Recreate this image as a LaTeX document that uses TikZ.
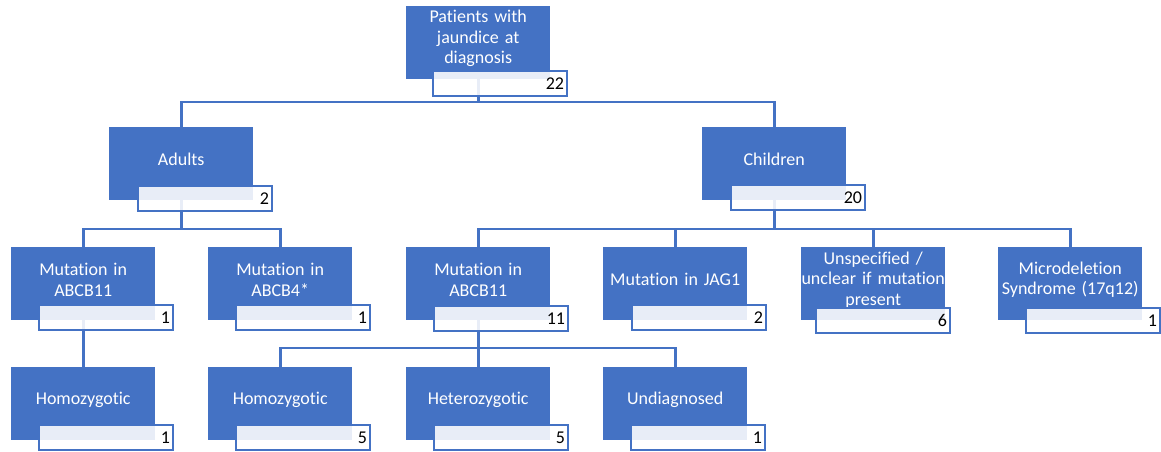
\documentclass[tikz,border=0pt]{standalone}
\usepackage{fontspec}
\setmainfont{Carlito}[Ligatures=NoCommon]
\definecolor{oblue}{HTML}{4472C4}
\begin{document}
\begin{tikzpicture}[x=1pt,y=-1pt,
 rectbox/.style={draw=none, fill=oblue, minimum width=144pt, minimum height=73pt, inner sep=0pt, anchor=north west},
 lbl/.style={text=white, font=\fontsize{18}{20.5}\selectfont, align=center, text width=150pt, inner sep=0pt},
 numbox/.style={draw=oblue, line width=2pt, fill=white, fill opacity=0.88, text opacity=1, minimum width=134pt, minimum height=25pt, inner sep=0pt, anchor=north west, text width=128pt, align=right, font=\fontsize{18}{20}\selectfont},
 conn/.style={draw=oblue, line width=2.6pt}]
\useasboundingbox (0,0) rectangle (1161,452);
% blue boxes
\node[rectbox] (root) at (406,6) {};
\node[rectbox] (adults) at (109,127) {};
\node[rectbox] (children) at (702,127) {};
\node[rectbox] (m1) at (11,247) {};
\node[rectbox] (m4) at (208,247) {};
\node[rectbox] (m11) at (406,247) {};
\node[rectbox] (jag) at (603,247) {};
\node[rectbox] (unsp) at (801,247) {};
\node[rectbox] (micro) at (998,247) {};
\node[rectbox] (homo1) at (11,367) {};
\node[rectbox] (homo2) at (208,367) {};
\node[rectbox] (hetero) at (406,367) {};
\node[rectbox] (undiag) at (603,367) {};
% labels
\node[lbl] (root-t) at ([yshift=4pt]root.center) {Patients with\\jaundice at\\diagnosis};
\node[lbl] (adults-t) at ([yshift=4pt]adults.center) {Adults};
\node[lbl] (children-t) at ([yshift=4pt]children.center) {Children};
\node[lbl] (m1-t) at ([yshift=4pt]m1.center) {Mutation in\\ABCB11};
\node[lbl] (m4-t) at ([yshift=4pt]m4.center) {Mutation in\\ABCB4*};
\node[lbl] (m11-t) at ([yshift=4pt]m11.center) {Mutation in\\ABCB11};
\node[lbl] (jag-t) at ([yshift=4pt]jag.center) {Mutation in JAG1};
\node[lbl] (unsp-t) at ([yshift=4pt]unsp.center) {Unspecified /\\unclear if mutation\\present};
\node[lbl] (micro-t) at ([yshift=4pt]micro.center) {Microdeletion\\Syndrome (17q12)};
\node[lbl] (homo1-t) at ([yshift=4pt]homo1.center) {Homozygotic};
\node[lbl] (homo2-t) at ([yshift=4pt]homo2.center) {Homozygotic};
\node[lbl] (hetero-t) at ([yshift=4pt]hetero.center) {Heterozygotic};
\node[lbl] (undiag-t) at ([yshift=4pt]undiag.center) {Undiagnosed};
% connectors
\coordinate (bus0) at (0,102);
\coordinate (bus1) at (0,229);
\coordinate (bus2) at (0,348);
\draw[conn] (root.south) -- (root.south |- bus0) -| (adults.north);
\draw[conn] (root.south |- bus0) -| (children.north);
\draw[conn] (adults.south) -- (adults.south |- bus1) -| (m1.north);
\draw[conn] (adults.south |- bus1) -| (m4.north);
\draw[conn] (children.south) -- (children.south |- bus1) -| (m11.north);
\draw[conn] (children.south |- bus1) -| (jag.north);
\draw[conn] (children.south |- bus1) -| (unsp.north);
\draw[conn] (children.south |- bus1) -| (micro.north);
\draw[conn] (m1.south) -- (homo1.north);
\draw[conn] (m11.south) -- (m11.south |- bus2) -| (homo2.north);
\draw[conn] (m11.south |- bus2) -| (hetero.north);
\draw[conn] (m11.south |- bus2) -| (undiag.north);
% number boxes
\node[numbox] (root-n) at ([xshift=26pt,yshift=9pt]root.south west) {22};
\node[numbox] (adults-n) at ([xshift=28pt,yshift=15pt]adults.south west) {2};
\node[numbox] (children-n) at ([xshift=28pt,yshift=16pt]children.south west) {20};
\node[numbox] (m1-n) at ([xshift=27pt,yshift=16pt]m1.south west) {1};
\node[numbox] (m4-n) at ([xshift=27pt,yshift=16pt]m4.south west) {1};
\node[numbox] (m11-n) at ([xshift=27pt,yshift=15pt]m11.south west) {11};
\node[numbox] (jag-n) at ([xshift=28pt,yshift=16pt]jag.south west) {2};
\node[numbox] (unsp-n) at ([xshift=14pt,yshift=13pt]unsp.south west) {6};
\node[numbox] (micro-n) at ([xshift=27pt,yshift=13pt]micro.south west) {1};
\node[numbox] (homo1-n) at ([xshift=27pt,yshift=16pt]homo1.south west) {1};
\node[numbox] (homo2-n) at ([xshift=27pt,yshift=16pt]homo2.south west) {5};
\node[numbox] (hetero-n) at ([xshift=27pt,yshift=16pt]hetero.south west) {5};
\node[numbox] (undiag-n) at ([xshift=27pt,yshift=16pt]undiag.south west) {1};
\end{tikzpicture}
\end{document}
